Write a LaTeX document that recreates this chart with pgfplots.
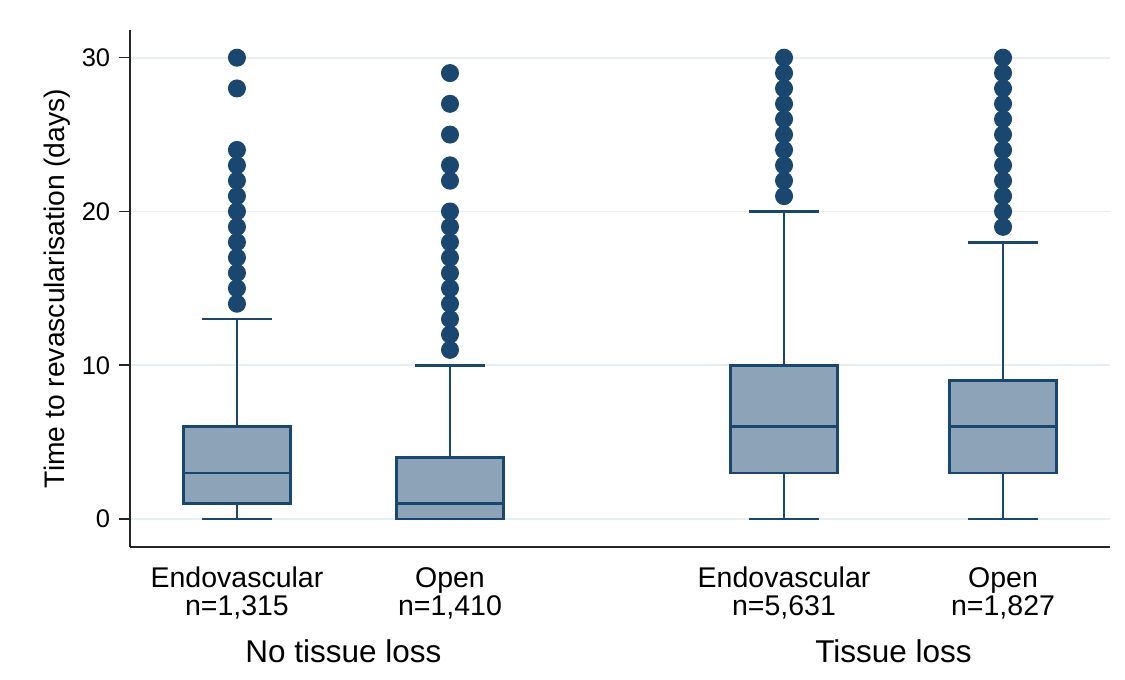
\documentclass[border=0pt]{standalone}
\usepackage{pgfplots}
\pgfplotsset{compat=1.18}
\usepgfplotslibrary{statistics}
\usepackage{fontspec}
\setmainfont{Liberation Sans}
\definecolor{stnavy}{HTML}{1A476F}
\definecolor{stfill}{HTML}{8DA3B8}
\definecolor{stgrid}{HTML}{E6EFF1}
\begin{document}
\begin{tikzpicture}
\useasboundingbox (0,0) rectangle (450pt,271.6pt);
\begin{axis}[
  at={(52pt,52.8pt)}, anchor=south west,
  width=392pt, height=206.8pt, scale only axis,
  xmin=0.498, xmax=5.098, ymin=-1.82, ymax=31.8,
  axis lines=left,
  axis line style={-, line width=0.8pt, color=black!85},
  xtick={1,2,3.568,4.596},
  xticklabels={{Endovascular\\n=1,315},{Open\\n=1,410},{Endovascular\\n=5,631},{Open\\n=1,827}},
  x tick style={draw=none},
  ytick={0,10,20,30},
  tick align=outside,
  major tick length=4.4pt,
  y tick style={line width=0.6pt, color=black!85},
  ymajorgrids,
  grid style={stgrid, line width=0.7pt},
  /pgf/number format/assume math mode=true,
  yticklabel style={font=\fontsize{10.2}{12}\selectfont},
  xticklabel style={align=center, font=\fontsize{11.4}{11.2}\selectfont, yshift=-0.2pt},
  ylabel={Time to revascularisation (days)},
  ylabel style={at={(axis description cs:0,0.5)}, anchor=center, yshift=29.2pt, font=\fontsize{11.3}{13}\selectfont},
  clip=false,
  boxplot/draw direction=y,
]
\addplot[boxplot prepared={draw position=1, lower whisker=0, lower quartile=1, median=3, upper quartile=6, upper whisker=13, box extend=0.502, whisker extend=0.33}, draw=stnavy, fill=stfill, line width=1.1pt] coordinates {};
\addplot[boxplot prepared={draw position=2, lower whisker=0, lower quartile=0, median=1, upper quartile=4, upper whisker=10, box extend=0.502, whisker extend=0.33}, draw=stnavy, fill=stfill, line width=1.1pt] coordinates {};
\addplot[boxplot prepared={draw position=3.568, lower whisker=0, lower quartile=3, median=6, upper quartile=10, upper whisker=20, box extend=0.502, whisker extend=0.33}, draw=stnavy, fill=stfill, line width=1.1pt] coordinates {};
\addplot[boxplot prepared={draw position=4.596, lower whisker=0, lower quartile=3, median=6, upper quartile=9, upper whisker=18, box extend=0.502, whisker extend=0.33}, draw=stnavy, fill=stfill, line width=1.1pt] coordinates {};
\addplot[only marks, mark=*, mark size=3.4pt, mark options={fill=stnavy, draw=stnavy}] coordinates {
(1,14)(1,15)(1,16)(1,17)(1,18)(1,19)(1,20)(1,21)(1,22)(1,23)(1,24)(1,28)(1,30)
(2,11)(2,12)(2,13)(2,14)(2,15)(2,16)(2,17)(2,18)(2,19)(2,20)(2,22)(2,23)(2,25)(2,27)(2,29)
(3.568,21)(3.568,22)(3.568,23)(3.568,24)(3.568,25)(3.568,26)(3.568,27)(3.568,28)(3.568,29)(3.568,30)
(4.596,19)(4.596,20)(4.596,21)(4.596,22)(4.596,23)(4.596,24)(4.596,25)(4.596,26)(4.596,27)(4.596,28)(4.596,29)(4.596,30)
};
\node[anchor=base, font=\fontsize{12.6}{14}\selectfont] at (axis cs:1.5,-9.3) {No tissue loss};
\node[anchor=base, font=\fontsize{12.6}{14}\selectfont] at (axis cs:4.082,-9.3) {Tissue loss};
\end{axis}
\end{tikzpicture}
\end{document}
